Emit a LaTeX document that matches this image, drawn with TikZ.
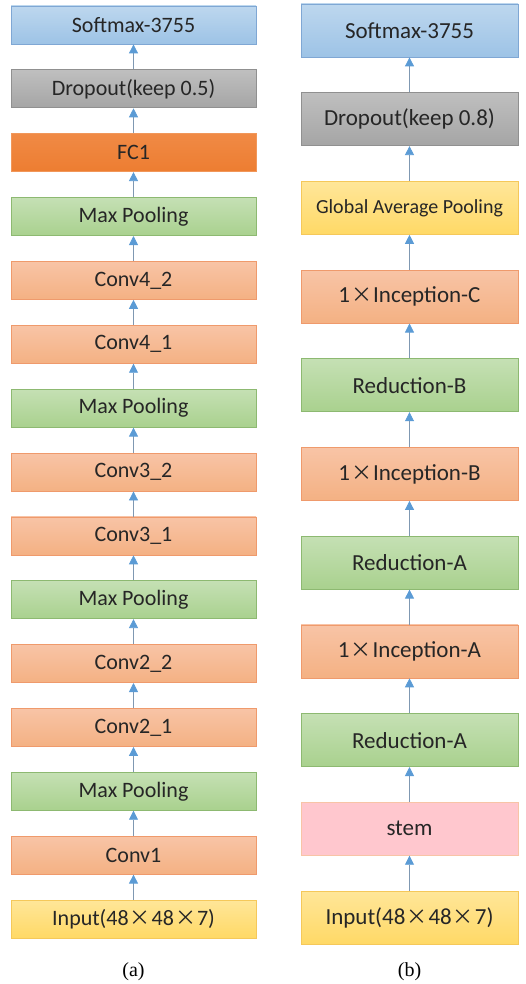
\documentclass[tikz,border=0pt]{standalone}
\usepackage{fontspec}
\setmainfont{Carlito}
\newfontfamily\capfont{Liberation Serif}
\newfontfamily\cjk{Noto Sans CJK SC}
\usepackage{tikz}
\usepackage{xcolor}
\usetikzlibrary{arrows.meta}

\definecolor{softblue}{HTML}{9DC3E6}
\definecolor{softblueT}{HTML}{BDD7EE}
\definecolor{softblueD}{HTML}{7FA7D4}
\definecolor{dropgrey}{HTML}{A5A5A5}
\definecolor{dropgreyT}{HTML}{BFBFBF}
\definecolor{dropgreyD}{HTML}{909090}
\definecolor{fcorange}{HTML}{ED7D31}
\definecolor{fcorangeT}{HTML}{F08A45}
\definecolor{poolgreen}{HTML}{A9D18E}
\definecolor{poolgreenT}{HTML}{C5E0B4}
\definecolor{poolgreenD}{HTML}{8DB971}
\definecolor{convred}{HTML}{F4B183}
\definecolor{convredT}{HTML}{F8C4A6}
\definecolor{convredD}{HTML}{EF9A6C}
\definecolor{inyellow}{HTML}{FFD966}
\definecolor{inyellowT}{HTML}{FFE699}
\definecolor{inyellowD}{HTML}{F5C85A}
\definecolor{stempink}{HTML}{FFC7CE}
\definecolor{arrowblue}{HTML}{5B9BD5}
\definecolor{arrowline}{HTML}{7F98B2}
\definecolor{labeltext}{HTML}{262626}

\newcommand{\tms}{\kern1pt{\cjk\fontsize{21}{22}\selectfont ×}\kern1pt}

\tikzset{
  layer/.style={rectangle,line width=0.8pt,inner sep=0pt,text=labeltext,font=\fontsize{22}{24}\selectfont},
  layerA/.style={layer,minimum width=245pt,minimum height=38pt},
  layerB/.style={layer,minimum width=217pt,minimum height=53pt,font=\fontsize{23}{25}\selectfont},
  softbox/.style={draw=softblueD,top color=softblueT,bottom color=softblue},
  dropbox/.style={draw=dropgreyD,top color=dropgreyT,bottom color=dropgrey},
  fcbox/.style={draw=fcorange!80!white,top color=fcorangeT,bottom color=fcorange},
  poolbox/.style={draw=poolgreenD,top color=poolgreenT,bottom color=poolgreen},
  convbox/.style={draw=convredD,top color=convredT,bottom color=convred},
  inbox/.style={draw=inyellowD,top color=inyellowT,bottom color=inyellow},
  stembox/.style={draw=convredT,fill=stempink},
  flow/.style={draw=arrowline,line width=0.8pt,-{Triangle[width=9pt,length=9pt,color=arrowblue,fill=arrowblue]}},
  caption/.style={font=\capfont\fontsize{20}{22}\selectfont},
}

\begin{document}
\begin{tikzpicture}[x=1pt,y=-1pt]
  \useasboundingbox (0,0) rectangle (526,984);
  % (a) plain CNN
  \node[layerA,softbox] (aSoft) at (133.5,25) {Softmax-3755};
  \node[layerA,dropbox] (aDrop) at (133.5,88.9) {Dropout(keep 0.5)};
  \node[layerA,fcbox] (aFC) at (133.5,152.7) {FC1};
  \node[layerA,poolbox] (aPoolD) at (133.5,216.6) {Max Pooling};
  \node[layerA,convbox] (aConvDb) at (133.5,280.4) {Conv4\_2};
  \node[layerA,convbox] (aConvDa) at (133.5,344.3) {Conv4\_1};
  \node[layerA,poolbox] (aPoolC) at (133.5,408.2) {Max Pooling};
  \node[layerA,convbox] (aConvCb) at (133.5,472.0) {Conv3\_2};
  \node[layerA,convbox] (aConvCa) at (133.5,535.9) {Conv3\_1};
  \node[layerA,poolbox] (aPoolB) at (133.5,599.7) {Max Pooling};
  \node[layerA,convbox] (aConvBb) at (133.5,663.6) {Conv2\_2};
  \node[layerA,convbox] (aConvBa) at (133.5,727.5) {Conv2\_1};
  \node[layerA,poolbox] (aPoolA) at (133.5,791.3) {Max Pooling};
  \node[layerA,convbox] (aConvA) at (133.5,855.2) {Conv1};
  \node[layerA,inbox] (aIn) at (133.5,919.0) {Input(48\tms48\tms7)};
  \draw[flow] (aIn) -- (aConvA);
  \draw[flow] (aConvA) -- (aPoolA);
  \draw[flow] (aPoolA) -- (aConvBa);
  \draw[flow] (aConvBa) -- (aConvBb);
  \draw[flow] (aConvBb) -- (aPoolB);
  \draw[flow] (aPoolB) -- (aConvCa);
  \draw[flow] (aConvCa) -- (aConvCb);
  \draw[flow] (aConvCb) -- (aPoolC);
  \draw[flow] (aPoolC) -- (aConvDa);
  \draw[flow] (aConvDa) -- (aConvDb);
  \draw[flow] (aConvDb) -- (aPoolD);
  \draw[flow] (aPoolD) -- (aFC);
  \draw[flow] (aFC) -- (aDrop);
  \draw[flow] (aDrop) -- (aSoft);
  \node[caption] (capA) at (133.5,972) {(a)};

  % (b) inception
  \node[layerB,softbox] (bSoft) at (409.5,30.5) {Softmax-3755};
  \node[layerB,dropbox] (bDrop) at (409.5,119.2) {Dropout(keep 0.8)};
  \node[layerB,inbox,font=\fontsize{20}{22}\selectfont] (bGap) at (409.5,207.9) {Global Average Pooling};
  \node[layerB,convbox] (bIncC) at (409.5,296.6) {1\tms Inception-C};
  \node[layerB,poolbox] (bRedB) at (409.5,385.3) {Reduction-B};
  \node[layerB,convbox] (bIncB) at (409.5,474.0) {1\tms Inception-B};
  \node[layerB,poolbox] (bRedAb) at (409.5,562.7) {Reduction-A};
  \node[layerB,convbox] (bIncA) at (409.5,651.4) {1\tms Inception-A};
  \node[layerB,poolbox] (bRedAa) at (409.5,740.1) {Reduction-A};
  \node[layerB,stembox] (bStem) at (409.5,828.8) {stem};
  \node[layerB,inbox] (bIn) at (409.5,917.5) {Input(48\tms48\tms7)};
  \draw[flow] (bIn) -- (bStem);
  \draw[flow] (bStem) -- (bRedAa);
  \draw[flow] (bRedAa) -- (bIncA);
  \draw[flow] (bIncA) -- (bRedAb);
  \draw[flow] (bRedAb) -- (bIncB);
  \draw[flow] (bIncB) -- (bRedB);
  \draw[flow] (bRedB) -- (bIncC);
  \draw[flow] (bIncC) -- (bGap);
  \draw[flow] (bGap) -- (bDrop);
  \draw[flow] (bDrop) -- (bSoft);
  \node[caption] (capB) at (409.5,972) {(b)};
\end{tikzpicture}
\end{document}
